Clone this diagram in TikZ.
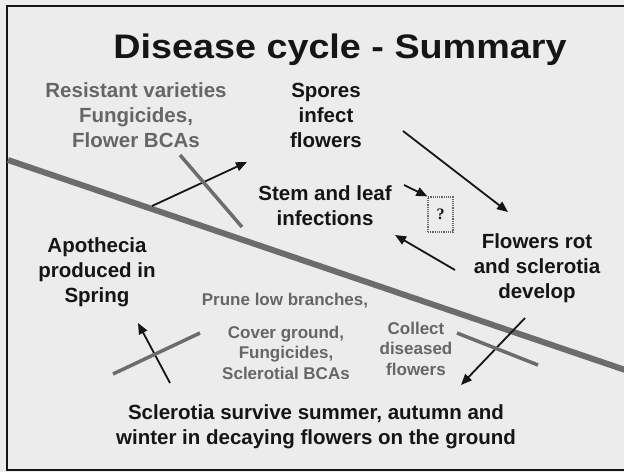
\documentclass[tikz,border=0pt]{standalone}
\usepackage{fontspec}
\setmainfont{Liberation Sans}
\newfontfamily\qserif{Liberation Serif}
\usetikzlibrary{arrows.meta}
\definecolor{bg}{HTML}{ECECEC}
\definecolor{ink}{HTML}{151515}
\definecolor{grayink}{HTML}{666666}
\definecolor{barline}{HTML}{6C6C6C}
\begin{document}
\begin{tikzpicture}[x=1pt,y=-1pt,
  maintext/.style={font=\bfseries\fontsize{20.5}{25}\selectfont, text=ink, align=center, inner sep=0pt},
  ctrlbig/.style={font=\bfseries\fontsize{20.5}{25}\selectfont, text=grayink, align=center, inner sep=0pt},
  ctrlsmall/.style={font=\bfseries\fontsize{17}{20.5}\selectfont, text=grayink, align=center, inner sep=0pt},
  arr/.style={-{Triangle[length=11pt,width=9pt]}, line width=1.8pt, draw=ink},
  blockline/.style={line width=3.5pt, draw=barline},
  groundline/.style={line width=6pt, draw=barline}]
\useasboundingbox (0,0) rectangle (624,472);
\fill[bg] (0,0) rectangle (624,472);
\draw[line width=2pt, draw=ink] (640,6) -- (7,6) -- (7,470) -- (640,470);

% title
\node[font=\bfseries\fontsize{34}{40}\selectfont, text=ink, xscale=1.11, anchor=base, inner sep=0pt] (title) at (340,58) {Disease cycle - Summary};

% texts (anchor base = baseline of the last line)
\node[ctrlbig, anchor=base] (resist) at (136,147) {Resistant varieties\\Fungicides,\\Flower BCAs};
\node[maintext, anchor=base] (spores) at (326,147) {Spores\\infect\\flowers};
\node[maintext, anchor=base] (stem) at (325,225) {Stem and leaf\\infections};
\node[maintext, anchor=base] (apo) at (97,302) {Apothecia\\produced in\\Spring};
\node[maintext, anchor=base] (rot) at (537,298) {Flowers rot\\and sclerotia\\develop};
\node[ctrlsmall, anchor=base] (prune) at (285,305) {Prune low branches,};
\node[ctrlsmall, anchor=base] (cover) at (286,379) {Cover ground,\\Fungicides,\\Sclerotial BCAs};
\node[ctrlsmall, anchor=base] (collect) at (416,375) {Collect\\diseased\\flowers};
\node[maintext, anchor=base] (survive) at (316,444) {Sclerotia survive summer, autumn and\\winter in decaying flowers on the ground};

% question box
\node[draw=grayink, densely dotted, line width=1.2pt, minimum width=25pt, minimum height=35pt, inner sep=0pt,
      font=\qserif\bfseries\fontsize{16}{18}\selectfont, text=ink] (qbox) at (440.5,214.5) {?};

% ground line
\coordinate (g1) at (8,160);
\coordinate (g2) at (640,375);
\draw[groundline] (g1) -- (g2);

% arrow end points
\coordinate (a1s) at (152,206); \coordinate (a1e) at (247,162);
\coordinate (a2s) at (403,131); \coordinate (a2e) at (508,212);
\coordinate (a3s) at (404,185);
\coordinate (a4s) at (455,270); \coordinate (a4e) at (395,235);
\coordinate (a5s) at (170,383); \coordinate (a5e) at (138,323);
\coordinate (a6s) at (525,318); \coordinate (a6e) at (461,385);

\draw[arr] (a1s) -- (a1e);
\draw[arr] (a2s) -- (a2e);
\draw[arr] (a3s) -- (qbox.north west);
\draw[arr] (a4s) -- (a4e);
\draw[arr] (a5s) -- (a5e);
\draw[arr] (a6s) -- (a6e);

% blocking lines
\coordinate (b1s) at (180,155); \coordinate (b1e) at (242,227);
\coordinate (b2s) at (113,374); \coordinate (b2e) at (200,333);
\coordinate (b3s) at (457,333); \coordinate (b3e) at (538,365);
\draw[blockline] (b1s) -- (b1e);
\draw[blockline] (b2s) -- (b2e);
\draw[blockline] (b3s) -- (b3e);
\end{tikzpicture}
\end{document}
